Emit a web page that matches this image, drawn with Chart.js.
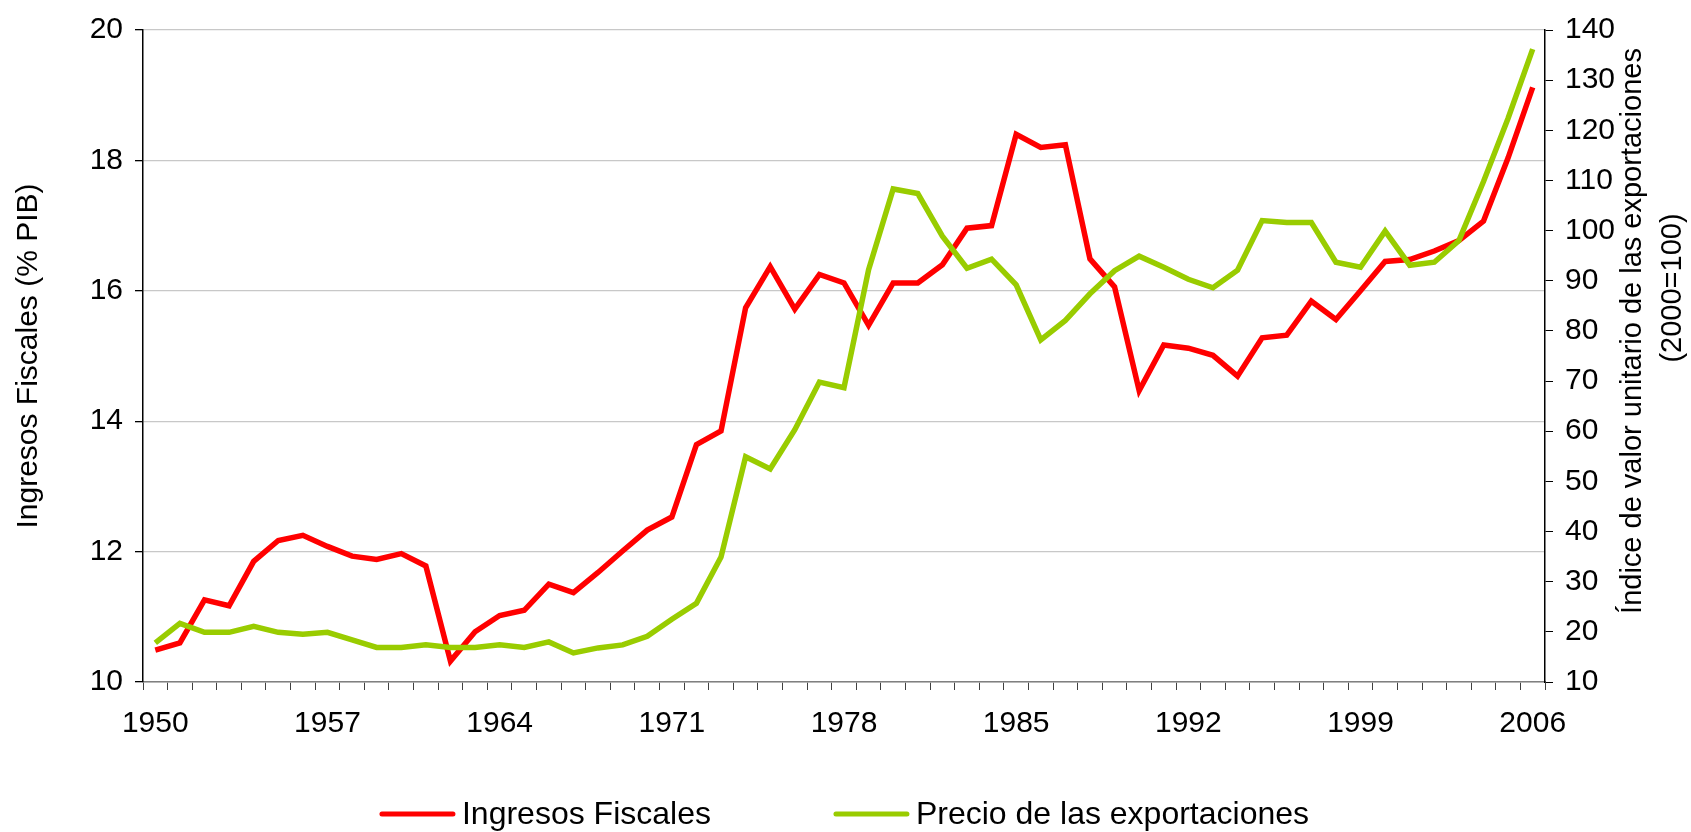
<!DOCTYPE html>
<html>
<head>
<meta charset="utf-8">
<script src="https://cdn.jsdelivr.net/npm/chart.js@4/dist/chart.umd.min.js"></script>
<style>
    body { margin: 0; background: #fff; }
    #wrap { width: 1691px; height: 832px; position: relative; }
</style>
</head>
<body>
<div id="wrap"><canvas id="myChart"></canvas></div>
<script>
const years = ['1950', '1951', '1952', '1953', '1954', '1955', '1956', '1957', '1958', '1959',
    '1960', '1961', '1962', '1963', '1964', '1965', '1966', '1967', '1968', '1969',
    '1970', '1971', '1972', '1973', '1974', '1975', '1976', '1977', '1978', '1979',
    '1980', '1981', '1982', '1983', '1984', '1985', '1986', '1987', '1988', '1989',
    '1990', '1991', '1992', '1993', '1994', '1995', '1996', '1997', '1998', '1999',
    '2000', '2001', '2002', '2003', '2004', '2005', '2006'];

// Ingresos Fiscales (% PIB), left axis
const ingresos = [10.49, 10.60, 11.26, 11.17, 11.85, 12.17, 12.25, 12.08, 11.93, 11.88,
    11.97, 11.78, 10.32, 10.77, 11.02, 11.10, 11.50, 11.37, 11.68, 12.01,
    12.33, 12.53, 13.64, 13.85, 15.74, 16.37, 15.72, 16.25, 16.12, 15.47,
    16.12, 16.12, 16.40, 16.96, 17.00, 18.40, 18.20, 18.24, 16.49, 16.06,
    14.47, 15.17, 15.12, 15.01, 14.69, 15.28, 15.32, 15.84, 15.56, 16.00,
    16.45, 16.48, 16.61, 16.77, 17.07, 18.04, 19.12];

// Precio de las exportaciones (2000=100), right axis
const precios = [17.8, 21.7, 19.9, 19.9, 21.1, 19.9, 19.5, 19.9, 18.4, 16.9,
    16.9, 17.4, 16.9, 16.9, 17.4, 16.9, 18.0, 15.8, 16.8, 17.4,
    19.1, 22.5, 25.7, 34.9, 54.9, 52.5, 60.3, 69.8, 68.7, 92.2,
    108.3, 107.4, 98.9, 92.5, 94.3, 89.2, 78.2, 82.1, 87.4, 92.0,
    94.9, 92.7, 90.3, 88.6, 92.1, 102.0, 101.6, 101.6, 93.7, 92.7,
    99.9, 93.1, 93.7, 98.0, 109.8, 122.4, 136.2];

const yearLabelsShown = ['1950', '1957', '1964', '1971', '1978', '1985', '1992', '1999', '2006'];
const leftTitle = 'Ingresos Fiscales (% PIB)';
const rightTitle = ['Índice de valor unitario de las exportaciones', '(2000=100)'];

const FONT = '"Liberation Sans", Arial, sans-serif';

// legend under the plot and the right axis title (reads bottom to top)
const extras = {
    id: 'extras',
    afterDraw(chart) {
        const ctx = chart.ctx;
        const area = chart.chartArea;
        ctx.save();
        ctx.font = '32px ' + FONT;
        const lineW = 71, gap = 9, between = 125;
        const items = chart.data.datasets.map(ds => ({
            text: ds.label, color: ds.borderColor, w: ctx.measureText(ds.label).width
        }));
        let total = items.reduce((s, it) => s + lineW + gap + it.w, 0) + between * (items.length - 1);
        let x = chart.width / 2 - total / 2;
        const y = 814;
        items.forEach(it => {
            ctx.strokeStyle = it.color;
            ctx.lineWidth = 5;
            ctx.lineCap = 'round';
            ctx.beginPath();
            ctx.moveTo(x, y);
            ctx.lineTo(x + lineW, y);
            ctx.stroke();
            ctx.fillStyle = '#000';
            ctx.textAlign = 'left';
            ctx.textBaseline = 'middle';
            ctx.fillText(it.text, x + lineW + gap, y + 1);
            x += lineW + gap + it.w + between;
        });

        ctx.font = '29px ' + FONT;
        ctx.translate(area.right + 88, 0);
        ctx.rotate(-Math.PI / 2);
        ctx.textAlign = 'center';
        ctx.fillText(rightTitle[0], -331, 0);
        ctx.fillText(rightTitle[1], -288, 40);
        ctx.restore();
    }
};

const ctx = document.getElementById('myChart');

let chart = new Chart(ctx, {
    type: 'line',
    data: {
        labels: years,
        datasets: [{
            label: 'Ingresos Fiscales',
            data: ingresos,
            borderColor: '#FF0000',
            backgroundColor: '#FF0000',
            yAxisID: 'y',
            order: 1
        },
        {
            label: 'Precio de las exportaciones',
            data: precios,
            borderColor: '#99CC00',
            backgroundColor: '#99CC00',
            yAxisID: 'y1',
            order: 0
        }]
    },
    options: {
        responsive: true,
        maintainAspectRatio: false,
        animation: false,
        layout: { padding: { top: 26, left: 0, right: 0, bottom: 0 } },
        elements: {
            line: { borderWidth: 5.5, tension: 0, borderJoinStyle: 'miter', fill: false },
            point: { radius: 0, hoverRadius: 0 }
        },
        plugins: {
            legend: { display: false },
            tooltip: { enabled: false }
        },
        scales: {
            x: {
                type: 'category',
                offset: true,
                afterFit: (s) => { s.height = 150; },
                border: { color: '#808080', width: 1.5 },
                grid: {
                    offset: true,
                    drawOnChartArea: false,
                    drawTicks: true,
                    tickLength: 8,
                    tickColor: '#404040'
                },
                ticks: {
                    autoSkip: false,
                    maxRotation: 0,
                    padding: 16,
                    color: '#000',
                    font: { family: FONT, size: 30 },
                    callback: function (v, i) {
                        const lab = years[i];
                        return yearLabelsShown.includes(lab) ? lab : '';
                    }
                }
            },
            y: {
                position: 'left',
                min: 10,
                max: 20,
                afterFit: (s) => { s.width = 143; },
                border: { color: '#000', width: 1.5 },
                grid: {
                    color: '#C8C8C8',
                    lineWidth: 1.3,
                    tickLength: 8,
                    tickColor: '#000'
                },
                ticks: {
                    stepSize: 2,
                    padding: 12,
                    color: '#000',
                    font: { family: FONT, size: 30 }
                },
                title: {
                    display: true,
                    text: leftTitle,
                    color: '#000',
                    font: { family: FONT, size: 30 },
                    padding: { top: 11, bottom: 0 }
                }
            },
            y1: {
                position: 'right',
                min: 10,
                max: 140,
                afterFit: (s) => { s.width = 146; },
                border: { color: '#000', width: 1.5 },
                grid: {
                    drawOnChartArea: false,
                    tickLength: 8,
                    tickColor: '#000'
                },
                ticks: {
                    stepSize: 10,
                    padding: 12,
                    color: '#000',
                    font: { family: FONT, size: 30 }
                }
            }
        }
    },
    plugins: [extras]
});
</script>
</body>
</html>
